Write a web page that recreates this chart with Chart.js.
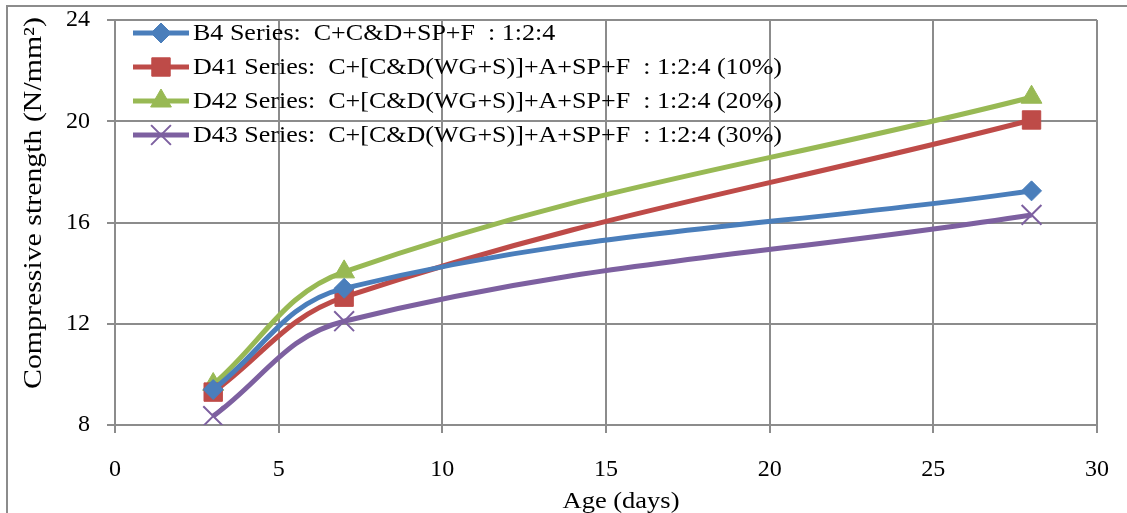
<!DOCTYPE html>
<html>
<head>
<meta charset="utf-8">
<script src="https://cdn.jsdelivr.net/npm/chart.js@4/dist/chart.umd.min.js"></script>
<style>
    html, body { margin: 0; padding: 0; background: #fff; }
    #wrap { position: relative; width: 1127px; height: 513px; }
    #frame { position: absolute; left: 6px; top: 5px; width: 1140px; height: 520px; border: 2px solid #8c8c8c; box-sizing: border-box; pointer-events: none; }
</style>
</head>
<body>
<div id="wrap">
    <canvas id="chart" width="1127" height="513"></canvas>
    <div id="frame"></div>
</div>
<script>
var ages = [3, 7, 28];
var b4Values = [9.4, 13.4, 17.25];
var d41Values = [9.3, 13.05, 20.05];
var d42Values = [9.6, 14.05, 20.95];
var d43Values = [8.35, 12.1, 16.3];
var seriesLabels = [
    "B4 Series:  C+C&D+SP+F  : 1:2:4",
    "D41 Series:  C+[C&D(WG+S)]+A+SP+F  : 1:2:4 (10%)",
    "D42 Series:  C+[C&D(WG+S)]+A+SP+F  : 1:2:4 (20%)",
    "D43 Series:  C+[C&D(WG+S)]+A+SP+F  : 1:2:4 (30%)"
];
var xTicks = [0, 5, 10, 15, 20, 25, 30];
var yTicks = [8, 12, 16, 20, 24];
var xTitle = 'Age (days)';
var yTitle = 'Compressive strength (N/mm\u00B2)';

var serif = "'Liberation Serif', 'Times New Roman', serif";
var gridColor = '#8c8c8c';

var toPoints = function (vals) {
    return vals.map(function (v, i) { return { x: ages[i], y: v }; });
};

var makeDataset = function (label, vals, color, style, radius, bw) {
    return {
        label: label,
        data: toPoints(vals),
        borderColor: color,
        backgroundColor: color,
        pointBackgroundColor: color,
        pointBorderColor: color,
        pointStyle: style,
        pointRadius: radius,
        pointBorderWidth: bw,
        borderWidth: 5,
        tension: 0.38,
        fill: false
    };
};

var datasets = [
    makeDataset(seriesLabels[0], b4Values, '#4a7ebb', 'rectRot', 10, 1),
    makeDataset(seriesLabels[1], d41Values, '#be4b48', 'rect', 13, 1),
    makeDataset(seriesLabels[2], d42Values, '#98b954', 'triangle', 12, 1),
    makeDataset(seriesLabels[3], d43Values, '#7d60a0', 'crossRot', 14, 2)
];

// text drawn wider than the font's own proportions, as in the source picture
var stretchText = function (ctx, text, x, y, size, targetWidth, align) {
    ctx.font = size + 'px ' + serif;
    var w = ctx.measureText(text).width;
    var sx = targetWidth ? targetWidth / w : 1;
    ctx.save();
    ctx.translate(x, y);
    ctx.scale(sx, 1);
    ctx.textAlign = align || 'left';
    ctx.fillText(text, 0, 0);
    ctx.restore();
};

var textPlugin = {
    id: 'textPlugin',
    afterDraw: function (chart) {
        var ctx = chart.ctx;
        var x0 = 133, y0 = 33, rowH = 34;
        var legendScale;
        ctx.save();
        ctx.textBaseline = 'middle';
        ctx.fillStyle = '#000';
        ctx.font = '23px ' + serif;
        legendScale = 589 / ctx.measureText(seriesLabels[1]).width;
        chart.data.datasets.forEach(function (ds, i) {
            var y = y0 + i * rowH;
            ctx.strokeStyle = ds.borderColor;
            ctx.lineWidth = 5;
            ctx.beginPath();
            ctx.moveTo(x0, y);
            ctx.lineTo(x0 + 56, y);
            ctx.stroke();
            ctx.fillStyle = ds.borderColor;
            ctx.lineWidth = ds.pointBorderWidth;
            Chart.helpers.drawPoint(ctx, {
                pointStyle: ds.pointStyle,
                radius: ds.pointRadius,
                borderWidth: ds.pointBorderWidth,
                rotation: 0
            }, x0 + 28, y);
            ctx.fillStyle = '#000';
            ctx.font = '23px ' + serif;
            stretchText(ctx, ds.label, x0 + 60, y + 1, 23,
                ctx.measureText(ds.label).width * legendScale);
        });

        // axis titles
        ctx.textBaseline = 'alphabetic';
        stretchText(ctx, xTitle, 621, 508, 23, 117, 'center');
        ctx.save();
        ctx.translate(41, 203);
        ctx.rotate(-Math.PI / 2);
        stretchText(ctx, yTitle, 0, 0, 25, 372, 'center');
        ctx.restore();
        ctx.restore();
    }
};

var ctx = document.getElementById('chart').getContext('2d');
new Chart(ctx, {
    type: 'line',
    data: { datasets: datasets },
    plugins: [textPlugin],
    options: {
        responsive: false,
        animation: false,
        layout: { padding: { left: 12, top: 20, right: 30, bottom: 0 } },
        plugins: {
            legend: { display: false },
            tooltip: { enabled: false }
        },
        scales: {
            x: {
                type: 'linear',
                min: 0,
                max: 30,
                afterBuildTicks: function (axis) {
                    axis.ticks = xTicks.map(function (v) { return { value: v }; });
                },
                afterFit: function (axis) {
                    axis.height = 88;
                    axis.paddingLeft = 0;
                    axis.paddingRight = 0;
                },
                grid: { color: gridColor, lineWidth: 2, tickLength: 8 },
                border: { color: gridColor, width: 2 },
                ticks: { color: '#000', font: { family: serif, size: 24 }, padding: 22, maxRotation: 0 }
            },
            y: {
                min: 8,
                max: 24,
                afterBuildTicks: function (axis) {
                    axis.ticks = yTicks.map(function (v) { return { value: v }; });
                },
                afterFit: function (axis) {
                    axis.width = 103;
                    axis.paddingTop = 0;
                    axis.paddingBottom = 0;
                },
                grid: { color: gridColor, lineWidth: 2, tickLength: 8 },
                border: { color: gridColor, width: 2 },
                ticks: { color: '#000', font: { family: serif, size: 24 }, padding: 17 }
            }
        }
    }
});
</script>
</body>
</html>
